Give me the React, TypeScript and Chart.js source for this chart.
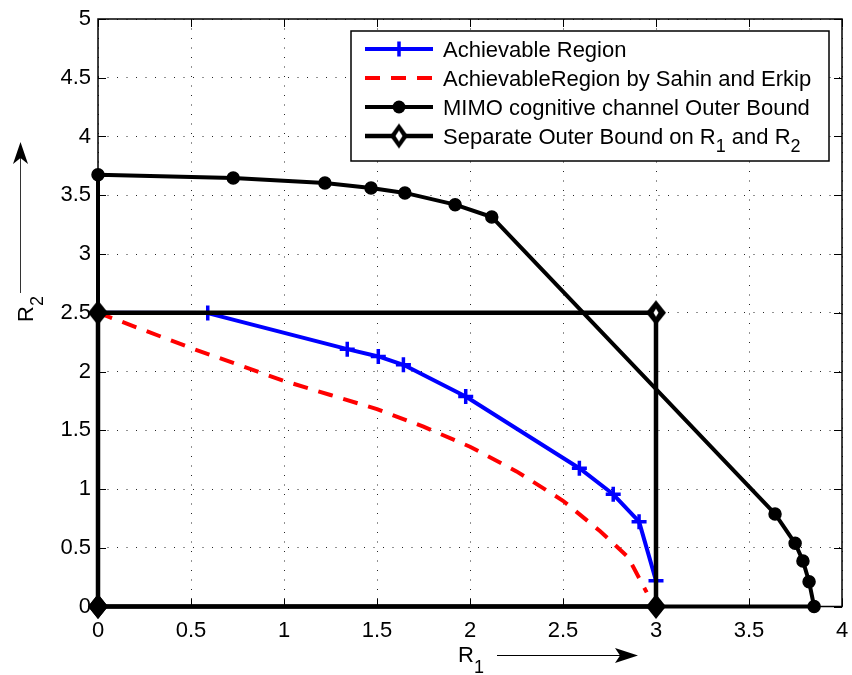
import React, { useEffect, useRef } from 'react';
import { Chart, registerables } from 'chart.js';
Chart.register(...registerables);

// ---- data ----
const achR1 = [0, 0.59, 1.34, 1.507, 1.642, 1.977, 2.588, 2.77, 2.909, 3.0, 3.0];
const achR2 = [2.5, 2.497, 2.19, 2.128, 2.057, 1.787, 1.177, 0.955, 0.722, 0.22, 0];

const sahinR1 = [0, 0.25, 0.5, 0.75, 1.0, 1.25, 1.5, 1.75, 2.0, 2.25, 2.5, 2.7, 2.85, 2.95];
const sahinR2 = [2.5, 2.35, 2.2, 2.06, 1.92, 1.8, 1.68, 1.53, 1.36, 1.15, 0.9, 0.64, 0.42, 0.12];

const mimoR1 = [0, 0, 0.727, 1.22, 1.468, 1.65, 1.92, 2.117, 3.64, 3.748, 3.79, 3.823, 3.85, 0];
const mimoR2 = [0, 3.675, 3.647, 3.605, 3.562, 3.52, 3.42, 3.315, 0.788, 0.538, 0.388, 0.211, 0, 0];

const sepR1 = [0, 0, 3, 3, 0];
const sepR2 = [0, 2.5, 2.5, 0, 0];

const xTickLabels = ['0', '0.5', '1', '1.5', '2', '2.5', '3', '3.5', '4'];
const yTickLabels = ['0', '0.5', '1', '1.5', '2', '2.5', '3', '3.5', '4', '4.5', '5'];

const legendLabels = [
  'Achievable Region',
  'AchievableRegion by Sahin and Erkip',
  'MIMO cognitive channel Outer Bound',
  'Separate Outer Bound on R_1 and R_2',
];
const xTitle = 'R_1';
const yTitle = 'R_2';

const FONT = '"Liberation Sans", Arial, Helvetica, sans-serif';

function pts(xs: number[], ys: number[]) {
  return xs.map((x, i) => ({ x, y: ys[i] }));
}

function makeDiamond(hw: number, hh: number, ihw: number, ihh: number) {
  const c = document.createElement('canvas');
  const w = Math.ceil(hw * 2 + 2);
  const h = Math.ceil(hh * 2 + 2);
  c.width = w;
  c.height = h;
  const g = c.getContext('2d')!;
  const cx = w / 2, cy = h / 2;
  g.fillStyle = '#000';
  g.beginPath();
  g.moveTo(cx, cy - hh);
  g.lineTo(cx + hw, cy);
  g.lineTo(cx, cy + hh);
  g.lineTo(cx - hw, cy);
  g.closePath();
  g.fill();
  if (ihw > 0) {
    g.fillStyle = '#fff';
    g.beginPath();
    g.moveTo(cx, cy - ihh);
    g.lineTo(cx + ihw, cy);
    g.lineTo(cx, cy + ihh);
    g.lineTo(cx - ihw, cy);
    g.closePath();
    g.fill();
  }
  return c;
}

function drawRich(ctx: CanvasRenderingContext2D, text: string, x: number, y: number, size: number, subSize: number, subOff: number) {
  const parts = text.split(/(_\d)/);
  let cx = x;
  for (const p of parts) {
    if (!p) continue;
    if (p.startsWith('_')) {
      ctx.font = `${subSize}px ${FONT}`;
      ctx.fillText(p.slice(1), cx, y + subOff);
      cx += ctx.measureText(p.slice(1)).width;
    } else {
      ctx.font = `${size}px ${FONT}`;
      ctx.fillText(p, cx, y);
      cx += ctx.measureText(p).width;
    }
  }
}

export default function App() {
  const ref = useRef<HTMLCanvasElement>(null);
  useEffect(() => {
    const canvas = ref.current!;
    const dFilled = makeDiamond(10, 12.5, 0, 0);
    const dOpen = makeDiamond(10, 12.5, 2.5, 4);
    const dLegend = makeDiamond(9, 12.5, 3.5, 5.5);

    const framePlugin = {
      id: 'frame',
      beforeDatasetsDraw(chart: any) {
        const ctx = chart.ctx as CanvasRenderingContext2D;
        const a = chart.chartArea;
        const xs = chart.scales.x, ys = chart.scales.y;
        ctx.save();
        ctx.strokeStyle = '#000';
        ctx.lineWidth = 1;
        const tl = 8;
        xTickLabels.forEach((t) => {
          const px = Math.round(xs.getPixelForValue(parseFloat(t))) + 0.5;
          ctx.beginPath();
          ctx.moveTo(px, a.bottom);
          ctx.lineTo(px, a.bottom - tl);
          ctx.moveTo(px, a.top);
          ctx.lineTo(px, a.top + tl);
          ctx.stroke();
        });
        yTickLabels.forEach((t) => {
          const py = Math.round(ys.getPixelForValue(parseFloat(t))) + 0.5;
          ctx.beginPath();
          ctx.moveTo(a.left, py);
          ctx.lineTo(a.left + tl, py);
          ctx.moveTo(a.right, py);
          ctx.lineTo(a.right - tl, py);
          ctx.stroke();
        });
        ctx.lineWidth = 1.5;
        ctx.strokeRect(a.left, a.top, a.right - a.left, a.bottom - a.top);
        ctx.restore();
      },
      afterDraw(chart: any) {
        const ctx = chart.ctx as CanvasRenderingContext2D;
        ctx.save();
        // axis titles
        ctx.fillStyle = '#000';
        ctx.textAlign = 'left';
        ctx.textBaseline = 'alphabetic';
        drawRich(ctx, xTitle, 458, 662, 22, 18, 11);
        ctx.strokeStyle = '#000';
        ctx.lineWidth = 1;
        ctx.beginPath();
        ctx.moveTo(497, 655.5);
        ctx.lineTo(630, 655.5);
        ctx.stroke();
        ctx.beginPath();
        ctx.moveTo(638, 655.5);
        ctx.lineTo(615, 648);
        ctx.lineTo(620, 655.5);
        ctx.lineTo(615, 663);
        ctx.closePath();
        ctx.fill();

        ctx.save();
        ctx.translate(33, 322);
        ctx.rotate(-Math.PI / 2);
        drawRich(ctx, yTitle, 0, 0, 22, 18, 10);
        ctx.restore();
        ctx.strokeStyle = '#333';
        ctx.beginPath();
        ctx.moveTo(20.5, 293);
        ctx.lineTo(20.5, 150);
        ctx.stroke();
        ctx.beginPath();
        ctx.moveTo(20.5, 142);
        ctx.lineTo(13, 164);
        ctx.lineTo(20.5, 158);
        ctx.lineTo(28, 164);
        ctx.closePath();
        ctx.fill();

        // legend
        const L = 351, T = 31, R = 829, B = 161;
        ctx.fillStyle = '#fff';
        ctx.fillRect(L, T, R - L, B - T);
        ctx.strokeStyle = '#000';
        ctx.lineWidth = 1.5;
        ctx.strokeRect(L, T, R - L, B - T);
        const rows = [49, 78, 107, 136];
        const x0 = 365, x1 = 433, xm = 399;
        chart.data.datasets.forEach((ds: any, i: number) => {
          const y = rows[i];
          ctx.save();
          ctx.strokeStyle = ds.borderColor;
          ctx.lineWidth = ds.borderWidth;
          ctx.setLineDash(ds.borderDash || []);
          ctx.lineCap = 'butt';
          ctx.beginPath();
          ctx.moveTo(x0, y);
          ctx.lineTo(x1, y);
          ctx.stroke();
          ctx.setLineDash([]);
          if (i === 0) {
            ctx.lineWidth = 3.5;
            ctx.beginPath();
            ctx.moveTo(xm - 7.5, y);
            ctx.lineTo(xm + 7.5, y);
            ctx.moveTo(xm, y - 7.5);
            ctx.lineTo(xm, y + 7.5);
            ctx.stroke();
          } else if (i === 2) {
            ctx.fillStyle = '#000';
            ctx.beginPath();
            ctx.arc(xm, y, 6.5, 0, Math.PI * 2);
            ctx.fill();
          } else if (i === 3) {
            ctx.drawImage(dLegend, xm - dLegend.width / 2, y - dLegend.height / 2);
          }
          ctx.restore();
          ctx.fillStyle = '#000';
          ctx.textAlign = 'left';
          ctx.textBaseline = 'alphabetic';
          drawRich(ctx, legendLabels[i], 443, y + 8, 22, 18, 8);
        });
        ctx.restore();
      },
    };

    const chart = new Chart(canvas, {
      type: 'scatter',
      data: {
        datasets: [
          {
            label: legendLabels[0].replace(/_/g, ''),
            data: pts(achR1, achR2),
            showLine: true,
            borderColor: '#0000ff',
            borderWidth: 4,
            pointStyle: 'cross',
            pointRadius: 7.5,
            pointBorderWidth: 3.5,
            pointBorderColor: '#0000ff',
            pointBackgroundColor: '#0000ff',
            borderJoinStyle: 'round',
            clip: false,
            order: 4,
          },
          {
            label: legendLabels[1],
            data: pts(sahinR1, sahinR2),
            showLine: true,
            borderColor: '#ff0000',
            borderWidth: 4,
            borderDash: [15, 11],
            pointRadius: 0,
            clip: false,
            order: 3,
          },
          {
            label: legendLabels[2],
            data: pts(mimoR1, mimoR2),
            showLine: true,
            borderColor: '#000000',
            borderWidth: 4,
            pointStyle: 'circle',
            pointRadius: 6,
            pointBorderWidth: 1.5,
            pointBorderColor: '#000',
            pointBackgroundColor: '#000',
            borderJoinStyle: 'round',
            clip: false,
            order: 2,
          },
          {
            label: legendLabels[3].replace(/_/g, ''),
            data: pts(sepR1, sepR2),
            showLine: true,
            borderColor: '#000000',
            borderWidth: 4.5,
            pointStyle: [dFilled, dFilled, dOpen, dFilled, dFilled] as any,
            pointRadius: 10,
            borderJoinStyle: 'miter',
            clip: false,
            order: 1,
          },
        ] as any,
      },
      options: {
        animation: false,
        responsive: false,
        devicePixelRatio: 1,
        layout: { autoPadding: false, padding: { left: 0, top: 19, right: 10, bottom: 0 } },
        plugins: { legend: { display: false }, tooltip: { enabled: false } },
        elements: { line: { tension: 0 } },
        scales: {
          x: {
            type: 'linear',
            min: 0,
            max: 4,
            afterFit: (s: any) => { s.height = 68.5; s.paddingLeft = 0; s.paddingRight = 0; },
            afterBuildTicks: (s: any) => { s.ticks = xTickLabels.map((t) => ({ value: parseFloat(t) })); },
            ticks: {
              autoSkip: false,
              maxRotation: 0,
              padding: 11,
              color: '#000',
              font: { family: FONT, size: 22 },
              callback: (v: any) => xTickLabels.find((t) => parseFloat(t) === v) ?? '',
            },
            grid: { color: 'rgba(0,0,0,0.85)', lineWidth: 1, drawTicks: false },
            border: { display: false, dash: [1, 8.5] },
          },
          y: {
            type: 'linear',
            min: 0,
            max: 5,
            afterFit: (s: any) => { s.width = 98; s.paddingTop = 0; s.paddingBottom = 0; },
            afterBuildTicks: (s: any) => { s.ticks = yTickLabels.map((t) => ({ value: parseFloat(t) })); },
            ticks: {
              autoSkip: false,
              padding: 7,
              color: '#000',
              font: { family: FONT, size: 22 },
              callback: (v: any) => yTickLabels.find((t) => parseFloat(t) === v) ?? '',
            },
            grid: { color: 'rgba(0,0,0,0.85)', lineWidth: 1, drawTicks: false },
            border: { display: false, dash: [1, 8.5] },
          },
        },
      } as any,
      plugins: [framePlugin],
    });
    return () => chart.destroy();
  }, []);
  return (
    <div style={{ position: 'absolute', left: 0, top: 0, width: 852, height: 675, background: '#fff' }}>
      <canvas ref={ref} width={852} height={675} style={{ width: 852, height: 675, display: 'block' }} />
    </div>
  );
}
